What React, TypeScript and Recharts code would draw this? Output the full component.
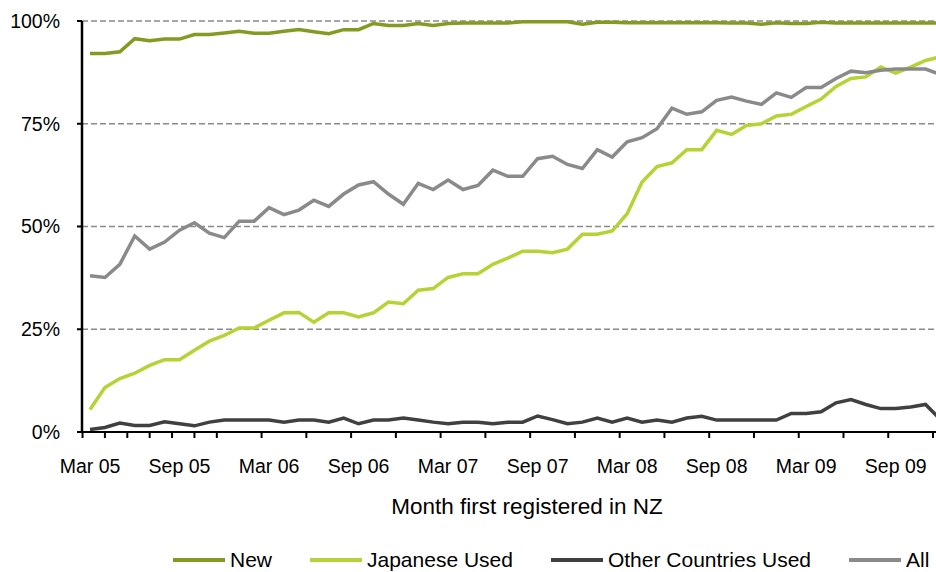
import React from 'react';
import { LineChart, Line, XAxis, YAxis, CartesianGrid, Legend } from 'recharts';

const months = [
  'Mar 05', 'Apr 05', 'May 05', 'Jun 05', 'Jul 05', 'Aug 05', 'Sep 05', 'Oct 05', 'Nov 05', 'Dec 05',
  'Jan 06', 'Feb 06', 'Mar 06', 'Apr 06', 'May 06', 'Jun 06', 'Jul 06', 'Aug 06', 'Sep 06', 'Oct 06', 'Nov 06', 'Dec 06',
  'Jan 07', 'Feb 07', 'Mar 07', 'Apr 07', 'May 07', 'Jun 07', 'Jul 07', 'Aug 07', 'Sep 07', 'Oct 07', 'Nov 07', 'Dec 07',
  'Jan 08', 'Feb 08', 'Mar 08', 'Apr 08', 'May 08', 'Jun 08', 'Jul 08', 'Aug 08', 'Sep 08', 'Oct 08', 'Nov 08', 'Dec 08',
  'Jan 09', 'Feb 09', 'Mar 09', 'Apr 09', 'May 09', 'Jun 09', 'Jul 09', 'Aug 09', 'Sep 09', 'Oct 09', 'Nov 09', 'Dec 09',
];

// share (%) of vehicles first registered each month
const newShare = [
  92.1, 92.1, 92.5, 95.7, 95.2, 95.6, 95.6, 96.7, 96.7, 97.1, 97.5, 97.0, 97.0, 97.5, 97.9, 97.4, 96.9, 97.9, 97.9, 99.4,
  98.9, 98.9, 99.4, 98.9, 99.4, 99.5, 99.5, 99.5, 99.5, 99.8, 99.8, 99.8, 99.8, 99.2, 99.7, 99.7, 99.6, 99.6, 99.6, 99.6,
  99.6, 99.6, 99.6, 99.5, 99.5, 99.2, 99.6, 99.4, 99.4, 99.7, 99.5, 99.5, 99.5, 99.5, 99.5, 99.5, 99.5, 99.5,
];
const japaneseUsed = [
  5.5, 10.8, 13.0, 14.3, 16.2, 17.6, 17.6, 19.9, 22.1, 23.5, 25.3, 25.3, 27.2, 29.0, 29.1, 26.7, 29.0, 29.0, 28.0, 29.0,
  31.6, 31.2, 34.5, 34.9, 37.6, 38.5, 38.5, 40.8, 42.3, 44.0, 44.0, 43.6, 44.5, 48.1, 48.1, 48.9, 53.1, 60.8, 64.6, 65.5,
  68.7, 68.7, 73.4, 72.4, 74.6, 75.0, 76.9, 77.3, 79.2, 81.0, 84.1, 86.0, 86.4, 88.8, 87.3, 88.8, 90.4, 91.3,
];
const otherUsed = [
  0.6, 1.1, 2.2, 1.6, 1.6, 2.5, 2.0, 1.5, 2.4, 2.9, 2.9, 2.9, 2.9, 2.4, 2.9, 2.9, 2.4, 3.4, 2.0, 2.9,
  2.9, 3.4, 2.9, 2.4, 2.0, 2.4, 2.4, 2.0, 2.4, 2.4, 3.9, 3.0, 2.0, 2.4, 3.4, 2.4, 3.4, 2.4, 2.9, 2.4,
  3.4, 3.8, 2.9, 2.9, 2.9, 2.9, 2.9, 4.5, 4.5, 4.9, 7.1, 7.9, 6.7, 5.7, 5.7, 6.1, 6.7, 3.0,
];
const allShare = [
  38.0, 37.6, 40.8, 47.7, 44.5, 46.2, 49.1, 50.9, 48.4, 47.3, 51.3, 51.3, 54.6, 52.9, 54.0, 56.4, 54.9, 57.9, 60.1, 60.9,
  57.9, 55.4, 60.5, 59.0, 61.3, 59.0, 60.0, 63.7, 62.2, 62.2, 66.5, 67.1, 65.1, 64.1, 68.7, 66.9, 70.6, 71.6, 73.8, 78.8,
  77.3, 77.9, 80.7, 81.5, 80.5, 79.7, 82.5, 81.4, 83.8, 83.8, 86.0, 87.8, 87.4, 88.0, 88.3, 88.3, 88.3, 87.0,
];

const yTicks = [0, 25, 50, 75, 100];
const labelTicks = [0, 6, 12, 18, 24, 30, 36, 42, 48, 54];

const series = [
  { key: 'newVeh', name: 'New', color: '#849B21' },
  { key: 'japanese', name: 'Japanese Used', color: '#B5D334' },
  { key: 'other', name: 'Other Countries Used', color: '#404040' },
  { key: 'all', name: 'All', color: '#8A8A8A' },
];

const rows = months.map((month, i) => ({
  idx: i,
  month,
  newVeh: newShare[i],
  japanese: japaneseUsed[i],
  other: otherUsed[i],
  all: allShare[i],
}));

// the original has minor tick marks every month and a half
const tickMarks = Array.from({ length: 39 }, (_, k) => -0.5 + 1.5 * k);
const xDomain = [-0.536, 56.7];
const axisStroke = { stroke: '#000', strokeWidth: 2 };

const renderLegend = () => (
  <div style={{ display: 'flex', alignItems: 'center', height: 24, paddingLeft: 173, fontSize: 21, color: '#000' }}>
    {series.map((s, i) => (
      <div key={s.key} style={{ display: 'flex', alignItems: 'center', marginLeft: i === 0 ? 0 : 38 }}>
        <span style={{ display: 'inline-block', width: 52, height: 4, background: s.color, marginRight: 5 }} />
        <span>{s.name}</span>
      </div>
    ))}
  </div>
);

export default function App() {
  return (
    <div style={{ position: 'absolute', left: 0, top: 0, fontFamily: '"Liberation Sans", Arial, sans-serif' }}>
      <LineChart width={936} height={572} data={rows} margin={{ top: 21, right: 0, bottom: 0, left: 0 }}>
        <CartesianGrid xAxisId="axis" vertical={false} stroke="#8A8A8A" strokeDasharray="6 3" strokeWidth={1.5} />
        <XAxis
          xAxisId="axis"
          dataKey="idx"
          type="number"
          domain={xDomain}
          allowDataOverflow
          ticks={tickMarks}
          tick={() => <g />}
          axisLine={axisStroke}
          tickLine={axisStroke}
          tickSize={6}
          height={1}
        />
        <XAxis
          xAxisId="months"
          dataKey="idx"
          type="number"
          domain={xDomain}
          allowDataOverflow
          ticks={labelTicks}
          tickFormatter={(v) => months[v]}
          axisLine={false}
          tickLine={false}
          tickSize={0}
          tickMargin={26}
          height={115}
          tick={{ fill: '#000', fontSize: 19.5 }}
          label={{ value: 'Month first registered in NZ', position: 'insideBottom', offset: 34, dx: 18, fill: '#000', fontSize: 22.5 }}
        />
        <YAxis
          domain={[0, 100]}
          ticks={yTicks}
          tickFormatter={(v) => `${v}%`}
          width={82}
          tickSize={5}
          tickMargin={17}
          axisLine={{ stroke: '#000', strokeWidth: 2.5 }}
          tickLine={axisStroke}
          tick={{ fill: '#000', fontSize: 19.5 }}
        />
        <Legend verticalAlign="bottom" content={renderLegend} />
        {series.map((s) => (
          <Line
            key={s.key}
            xAxisId="axis"
            type="linear"
            dataKey={s.key}
            name={s.name}
            stroke={s.color}
            strokeWidth={3.5}
            dot={false}
            activeDot={false}
            isAnimationActive={false}
          />
        ))}
      </LineChart>
    </div>
  );
}
